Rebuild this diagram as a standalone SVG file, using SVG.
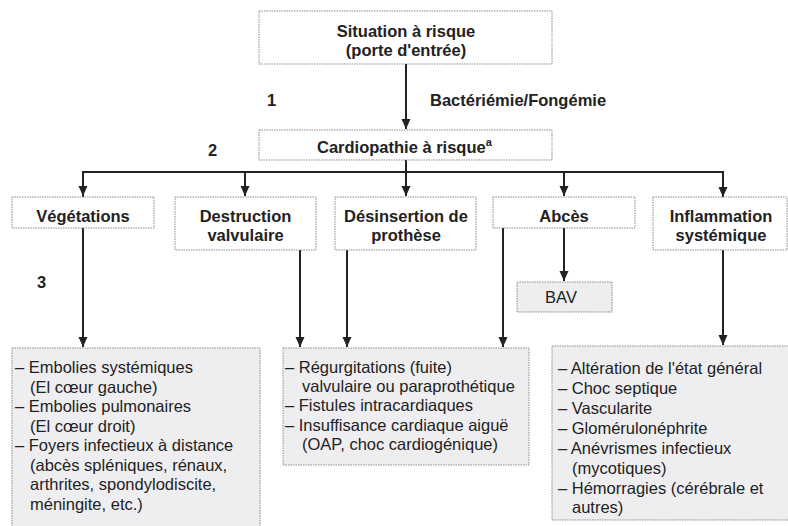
<svg xmlns="http://www.w3.org/2000/svg" width="788" height="526" viewBox="0 0 788 526">
<style>
.box{fill:#ffffff;stroke:#8a8a8a;stroke-width:1;stroke-dasharray:1.5 1}
.gbox{fill:#eeeef0;stroke:#8a8a8a;stroke-width:1;stroke-dasharray:1.5 1}
.h{font-family:"Liberation Sans",Arial,sans-serif;font-weight:bold;font-size:16.5px;fill:#222}
.t{font-family:"Liberation Sans",Arial,sans-serif;font-size:16.5px;fill:#222}
.c{text-anchor:middle}
.ln{fill:none;stroke:#222;stroke-width:2}
</style>
<defs>
<marker id="ah" viewBox="0 0 10 10" refX="10" refY="5" markerWidth="10" markerHeight="10" markerUnits="userSpaceOnUse" orient="auto">
<path d="M0,0.5 L10,5 L0,9.5 z" fill="#222"/>
</marker>
</defs>
<rect width="788" height="526" fill="#ffffff"/>

<g id="connectors">
<line class="ln" x1="406" y1="64" x2="406" y2="129" marker-end="url(#ah)"/>
<polyline class="ln" points="83,197 83,172 723,172 723,197" marker-end="url(#ah)"/>
<line class="ln" x1="83" y1="172" x2="83" y2="196" marker-end="url(#ah)"/>
<line class="ln" x1="406" y1="160" x2="406" y2="196" marker-end="url(#ah)"/>
<line class="ln" x1="245" y1="172" x2="245" y2="196" marker-end="url(#ah)"/>
<line class="ln" x1="564" y1="172" x2="564" y2="196" marker-end="url(#ah)"/>
<line class="ln" x1="564" y1="228" x2="564" y2="281" marker-end="url(#ah)"/>
<line class="ln" x1="83" y1="228" x2="83" y2="347" marker-end="url(#ah)"/>
<line class="ln" x1="300" y1="250" x2="300" y2="347" marker-end="url(#ah)"/>
<line class="ln" x1="347" y1="250" x2="347" y2="347" marker-end="url(#ah)"/>
<line class="ln" x1="503" y1="228" x2="503" y2="347" marker-end="url(#ah)"/>
<line class="ln" x1="723" y1="250" x2="723" y2="345" marker-end="url(#ah)"/>
</g>

<g id="labels">
<text class="h" x="267" y="106">1</text>
<text class="h" x="430" y="106">Bactériémie/Fongémie</text>
<text class="h" x="208" y="156">2</text>
<text class="h" x="37" y="288">3</text>
</g>

<g id="situation">
<rect class="box" x="259" y="11" width="293" height="53"/>
<text class="h c" x="406" y="37">Situation à risque</text>
<text class="h c" x="406" y="56">(porte d'entrée)</text>
</g>

<g id="cardiopathie">
<rect class="box" x="259" y="130" width="293" height="30"/>
<text class="h" x="317" y="153">Cardiopathie à risque<tspan font-size="11" dy="-7">a</tspan></text>
</g>

<g id="vegetations">
<rect class="box" x="12" y="197" width="142" height="31"/>
<text class="h c" x="83" y="222">Végétations</text>
</g>

<g id="destruction">
<rect class="box" x="175" y="197" width="141" height="53"/>
<text class="h c" x="245.5" y="222">Destruction</text>
<text class="h c" x="245.5" y="241">valvulaire</text>
</g>

<g id="desinsertion">
<rect class="box" x="335" y="197" width="141" height="53"/>
<text class="h c" x="406" y="222">Désinsertion de</text>
<text class="h c" x="406" y="241">prothèse</text>
</g>

<g id="abces">
<rect class="box" x="493" y="197" width="142" height="31"/>
<text class="h c" x="564" y="222">Abcès</text>
</g>

<g id="inflammation">
<rect class="box" x="653" y="197" width="134" height="53"/>
<text class="h c" x="721" y="222">Inflammation</text>
<text class="h c" x="721" y="241">systémique</text>
</g>

<g id="bav">
<rect class="gbox" x="517" y="282" width="95" height="30"/>
<text class="t c" x="561" y="303">BAV</text>
</g>

<g id="consequences-vegetations">
<rect class="gbox" x="12" y="348" width="248" height="190"/>
<text class="t" x="15" y="373">– Embolies systémiques</text>
<text class="t" x="30" y="393">(El cœur gauche)</text>
<text class="t" x="15" y="412">– Embolies pulmonaires</text>
<text class="t" x="30" y="432">(El cœur droit)</text>
<text class="t" x="15" y="451">– Foyers infectieux à distance</text>
<text class="t" x="30" y="471">(abcès spléniques, rénaux,</text>
<text class="t" x="30" y="490">arthrites, spondylodiscite,</text>
<text class="t" x="30" y="510">méningite, etc.)</text>
</g>

<g id="consequences-valvulaires">
<rect class="gbox" x="283" y="348" width="246" height="117"/>
<text class="t" x="285" y="373">– Régurgitations (fuite)</text>
<text class="t" x="302" y="392">valvulaire ou paraprothétique</text>
<text class="t" x="285" y="411">– Fistules intracardiaques</text>
<text class="t" x="285" y="431">– Insuffisance cardiaque aiguë</text>
<text class="t" x="302" y="450">(OAP, choc cardiogénique)</text>
</g>

<g id="consequences-systemiques">
<rect class="gbox" x="552" y="346" width="240" height="174"/>
<text class="t" x="558" y="374">– Altération de l'état général</text>
<text class="t" x="558" y="394">– Choc septique</text>
<text class="t" x="558" y="414">– Vascularite</text>
<text class="t" x="558" y="434">– Glomérulonéphrite</text>
<text class="t" x="558" y="454">– Anévrismes infectieux</text>
<text class="t" x="572" y="474">(mycotiques)</text>
<text class="t" x="558" y="494">– Hémorragies (cérébrale et</text>
<text class="t" x="572" y="513">autres)</text>
</g>
</svg>
